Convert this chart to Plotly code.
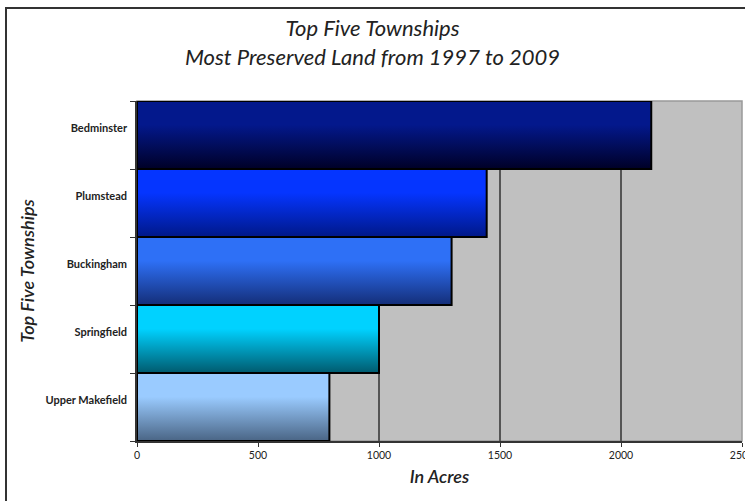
import plotly.graph_objects as go

townships = ["Upper Makefield", "Springfield", "Buckingham", "Plumstead", "Bedminster"]
acres = [795, 1000, 1300, 1445, 2125]
top_colors = ["#9acbff", "#00d2ff", "#2e70f6", "#0535ff", "#03188c"]
bottom_colors = ["#4a6585", "#005a6e", "#142e78", "#001888", "#000026"]
x_ticks = [0, 500, 1000, 1500, 2000, 2500]

FONT = "Lato"
fig = go.Figure()

for i, (name, v) in enumerate(zip(townships, acres)):
    fig.add_trace(go.Scatter(
        x=[0, v, v, 0, 0],
        y=[i - 0.5, i - 0.5, i + 0.5, i + 0.5, i - 0.5],
        mode="lines",
        fill="toself",
        fillgradient=dict(type="vertical",
                          colorscale=[[0, bottom_colors[i]], [0.65, top_colors[i]], [1, top_colors[i]]]),
        line=dict(color="#000000", width=2),
        hoverinfo="skip",
        showlegend=False,
        name=name,
    ))

fig.update_layout(
    width=745, height=501,
    margin=dict(l=137, r=3, t=101, b=60, autoexpand=False),
    paper_bgcolor="white",
    plot_bgcolor="#c0c0c0",
    title=dict(
        text="Top Five Townships<br>Most Preserved Land from 1997 to 2009",
        x=0.5, xref="container", xanchor="center",
        y=1 - 36 / 501, yref="container", yanchor="middle",
        font=dict(family=FONT, size=22, color="#222222", style="italic"),
    ),
    xaxis=dict(
        range=[0, 2500],
        automargin=False,
        tickvals=x_ticks,
        ticktext=[str(t) for t in x_ticks],
        ticks="outside", ticklen=4, tickcolor="#333333",
        ticklabeloverflow="allow",
        tickfont=dict(family=FONT, size=10.5, color="#222222"),
        showgrid=True, gridcolor="#555555", gridwidth=1.5,
        showline=True, linecolor="#333333", linewidth=1.5,
        zeroline=False,
        title=dict(text="In Acres", standoff=10,
                   font=dict(family=FONT, size=18, color="#222222", style="italic", weight=600)),
    ),
    yaxis=dict(
        range=[-0.5, len(townships) - 0.5],
        automargin=False,
        tickvals=[i + 0.1 for i in range(len(townships))],
        ticktext=townships,
        ticks="", ticklabelstandoff=6,
        tickfont=dict(family=FONT, size=11, color="#222222", weight="bold"),
        minor=dict(tick0=-0.5, dtick=1, ticks="outside", ticklen=5, tickcolor="#333333", showgrid=False),
        showgrid=False,
        showline=True, linecolor="#333333", linewidth=1.5,
        zeroline=False,
        title=dict(text="Top Five Townships", standoff=6,
                   font=dict(family=FONT, size=18, color="#222222", style="italic", weight=600)),
    ),
    shapes=[
        dict(type="rect", xref="paper", yref="paper",
             x0=0, x1=1, y0=0, y1=1,
             line=dict(color="#999999", width=1.5), fillcolor="rgba(0,0,0,0)", layer="below"),
        dict(type="rect", xref="paper", yref="paper",
             x0=(6 - 137) / 605, x1=(760 - 137) / 605,
             y0=-(520 - 441) / 340, y1=1 + (101 - 8) / 340,
             line=dict(color="#333333", width=2), fillcolor="rgba(0,0,0,0)", layer="below"),
    ],
)

fig.write_html("out.html")
